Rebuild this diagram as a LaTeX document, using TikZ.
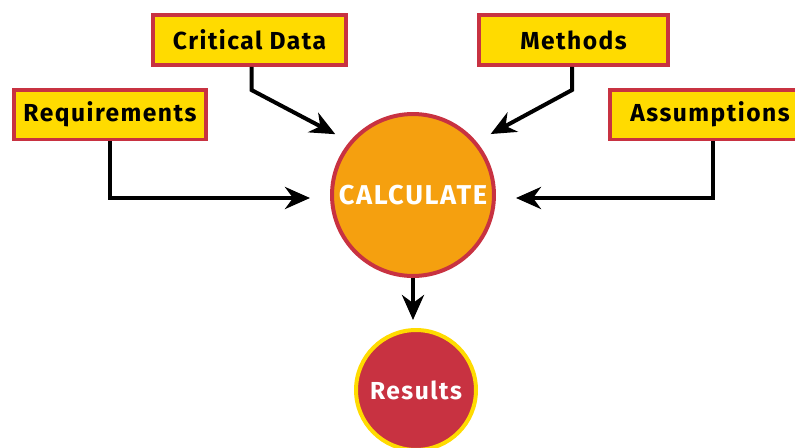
\documentclass[tikz,border=0pt]{standalone}
\usepackage{fontspec}
\setmainfont{Fira Sans}[LetterSpace=6]
\usetikzlibrary{arrows.meta,positioning}
\definecolor{sun}{RGB}{255,219,0}
\definecolor{crimson}{RGB}{200,50,65}
\definecolor{tangerine}{RGB}{245,160,15}
\tikzset{
  >={Stealth[length=5mm,width=4.4mm,inset=1.6mm]},
  input/.style={draw=crimson,fill=sun,line width=0.08cm,minimum width=#1,
    minimum height=1.0cm,inner sep=0pt,font=\fontsize{14}{16}\selectfont\bfseries},
  input/.default=3.86cm,
  hub/.style={circle,draw=crimson,fill=tangerine,line width=0.08cm,minimum size=3.24cm,
    inner sep=0pt,text=white,font=\fontsize{15.5}{18}\selectfont\bfseries},
  outcome/.style={circle,draw=sun,fill=crimson,line width=0.08cm,minimum size=2.4cm,
    inner sep=0pt,text=white,font=\fontsize{14}{16}\selectfont\bfseries},
  feed/.style={->,line width=0.08cm,draw=black},
}
\begin{document}
\begin{tikzpicture}[x=0.02cm,y=-0.02cm]
  \useasboundingbox (0,0) rectangle (795,447);
  % inputs
  \node[input] (crit) at (249.5,40) {Critical Data};
  \node[input=3.8cm] (meth) at (573.5,40) {Methods};
  \node[input=3.84cm] (reqs) at (110,114.5) {Requirements};
  \node[input=4cm] (assm) at (710,114.5) {Assumptions};
  % centre and result
  \node[hub] (calc) at (413,195) {CALCULATE};
  \node[outcome] (res) at (416,390) {Results};
  % connectors
  \draw[feed,shorten >=0.32cm] ([xshift=0.04cm]crit.south) -- ++(0,23) -- (calc.140);
  \draw[feed,shorten >=0.32cm] ([xshift=-0.03cm]meth.south) -- ++(0,23) -- (calc.40);
  \draw[feed,shorten >=0.4cm] (reqs.south) |- ([yshift=-0.06cm]calc.west);
  \draw[feed,shorten >=0.4cm] ([xshift=0.06cm]assm.south) |- ([yshift=-0.06cm]calc.east);
  \draw[feed,shorten >=0.16cm] (calc.south) -- (calc.south |- res.north);
\end{tikzpicture}
\end{document}
